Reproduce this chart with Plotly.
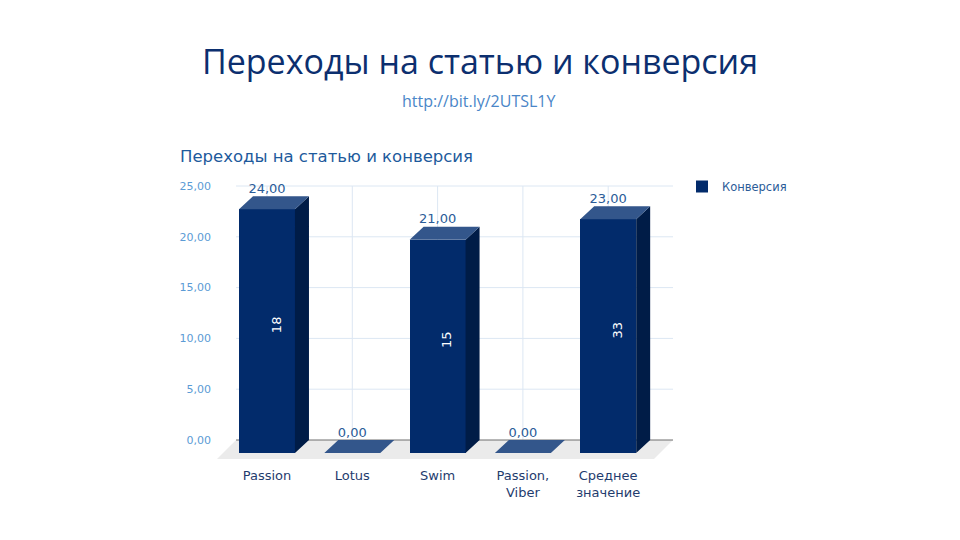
import plotly.graph_objects as go

# ---- data ----
categories = ["Passion", "Lotus", "Swim", "Passion,<br>Viber", "Среднее<br>значение"]
conversion = [24, 0, 21, 0, 23]
visits_text = ["18", "", "15", "", "33"]
y_ticks = [0, 5, 10, 15, 20, 25]

title_text = "Переходы на статью и конверсия"
subtitle_text = "http://bit.ly/2UTSL1Y"
chart_title = "Переходы на статью и конверсия"
series_name = "Конверсия"

# ---- style constants (3D look) ----
BAR_W = 0.656      # front face width (category units)
DX = 0.164         # depth offset x (category units)
DY = 1.28          # depth offset y (value units)
FLOOR_DEPTH = 1.87
WALL_L, WALL_R = -0.363, 4.76
FLOOR_SHIFT = 0.223

C_FRONT = "#022b6b"
C_TOP = "#33568b"
C_SIDE = "#001c47"
C_GRID = "#dce7f3"
C_FLOOR = "#ebebeb"
C_AXIS = "#6e6e6e"
C_LABEL = "#2b5c98"
C_TICK = "#5b9bd5"
C_XTICK = "#1f3c6e"
C_TITLE = "#0c2f6f"

FONT = "DejaVu Sans"

W, H = 960, 540
ML, MR, MT, MB = 214, 260, 170, 78
PW, PH = W - ML - MR, H - MT - MB

def px_x(p):
    return (p - ML) / PW

def px_y(p):
    return (H - MB - p) / PH

idx = list(range(len(categories)))

fig = go.Figure()

# front faces as bars
fig.add_trace(go.Bar(
    x=idx, y=conversion, base=[-DY] * len(idx), width=BAR_W,
    marker=dict(color=C_FRONT, line=dict(width=0)),
    name=series_name, showlegend=True, hoverinfo="skip",
))

# top & side faces
top_x, top_y, side_x, side_y = [], [], [], []
for i, v in zip(idx, conversion):
    l, r = i - BAR_W / 2, i + BAR_W / 2
    top_x += [l, r, r + DX, l + DX, l, None]
    top_y += [v - DY, v - DY, v, v, v - DY, None]
    if v > 0:
        side_x += [r, r, r + DX, r + DX, r, None]
        side_y += [-DY, v - DY, v, 0, -DY, None]

fig.add_trace(go.Scatter(x=side_x, y=side_y, fill="toself", fillcolor=C_SIDE,
                         mode="lines", line=dict(width=0), showlegend=False, hoverinfo="skip"))
fig.add_trace(go.Scatter(x=top_x, y=top_y, fill="toself", fillcolor=C_TOP,
                         mode="lines", line=dict(width=0), showlegend=False, hoverinfo="skip"))

# value labels
fig.add_trace(go.Scatter(
    x=idx, y=conversion, mode="text",
    text=[f"{v:.2f}".replace(".", ",") for v in conversion],
    textposition="top center",
    textfont=dict(family=FONT, size=13, color=C_LABEL),
    showlegend=False, hoverinfo="skip", cliponaxis=False,
))

shapes = []
# floor
shapes.append(dict(
    type="path", layer="below", xref="x", yref="y",
    path=(f"M {WALL_L} 0 L {WALL_R} 0 L {WALL_R - FLOOR_SHIFT} {-FLOOR_DEPTH} "
          f"L {WALL_L - FLOOR_SHIFT} {-FLOOR_DEPTH} Z"),
    fillcolor=C_FLOOR, line=dict(width=0),
))
# horizontal gridlines
for t in y_ticks[1:]:
    shapes.append(dict(type="line", layer="below", xref="x", yref="y",
                       x0=WALL_L, x1=WALL_R, y0=t, y1=t,
                       line=dict(color=C_GRID, width=1)))
# vertical gridlines
for i in idx:
    shapes.append(dict(type="line", layer="below", xref="x", yref="y",
                       x0=i, x1=i, y0=0, y1=y_ticks[-1],
                       line=dict(color=C_GRID, width=1)))
# zero axis line
shapes.append(dict(type="line", layer="below", xref="x", yref="y",
                   x0=WALL_L, x1=WALL_R, y0=0, y1=0,
                   line=dict(color=C_AXIS, width=1)))

annotations = []
# inner rotated labels
for i, v, t in zip(idx, conversion, visits_text):
    if t:
        annotations.append(dict(
            x=i + DX / 2 + 0.03, y=(v - DY) / 2, xref="x", yref="y", text=t,
            textangle=-90, showarrow=False,
            font=dict(family=FONT, size=13, color="white"),
        ))
# subtitle
annotations.append(dict(
    x=px_x(479), y=px_y(101), xref="paper", yref="paper", text=subtitle_text,
    xanchor="center", yanchor="middle",
    showarrow=False, font=dict(family="Open Sans", size=16, color="#4a86c8"),
))
# chart title
annotations.append(dict(
    x=px_x(178), y=px_y(156), xref="paper", yref="paper", text=chart_title,
    xanchor="left", yanchor="middle", showarrow=False,
    font=dict(family=FONT, size=16.5, color="#1d5a9c"),
))

x0 = -(267 - ML) / 85.3
x1 = x0 + PW / 85.3
y0 = -(MT + PH - 440) / 10.16
y1 = (440 - MT) / 10.16

fig.update_layout(
    width=W, height=H,
    margin=dict(l=ML, r=MR, t=MT, b=MB),
    paper_bgcolor="white", plot_bgcolor="rgba(0,0,0,0)",
    separators=", ",
    title=dict(text=title_text, x=0.5, xanchor="center", xref="container",
               y=1 - 62 / 540, yanchor="middle", yref="container",
               font=dict(family="Open Sans", size=34, color=C_TITLE)),
    xaxis=dict(range=[x0, x1], tickvals=idx, ticktext=categories,
               showgrid=False, zeroline=False, showline=False, ticks="",
               ticklabelstandoff=4,
               tickfont=dict(family=FONT, size=13, color=C_XTICK)),
    yaxis=dict(range=[y0, y1], tickvals=y_ticks, tickformat=".2f",
               showgrid=False, zeroline=False, showline=False, ticks="",
               ticklabelstandoff=2,
               tickfont=dict(family=FONT, size=11, color=C_TICK)),
    legend=dict(x=px_x(682), y=px_y(172), xanchor="left", yanchor="top",
                font=dict(family=FONT, size=11.5, color="#2b5c98"),
                bgcolor="rgba(0,0,0,0)"),
    shapes=shapes, annotations=annotations,
    bargap=0,
)

fig.write_html("out.html")
